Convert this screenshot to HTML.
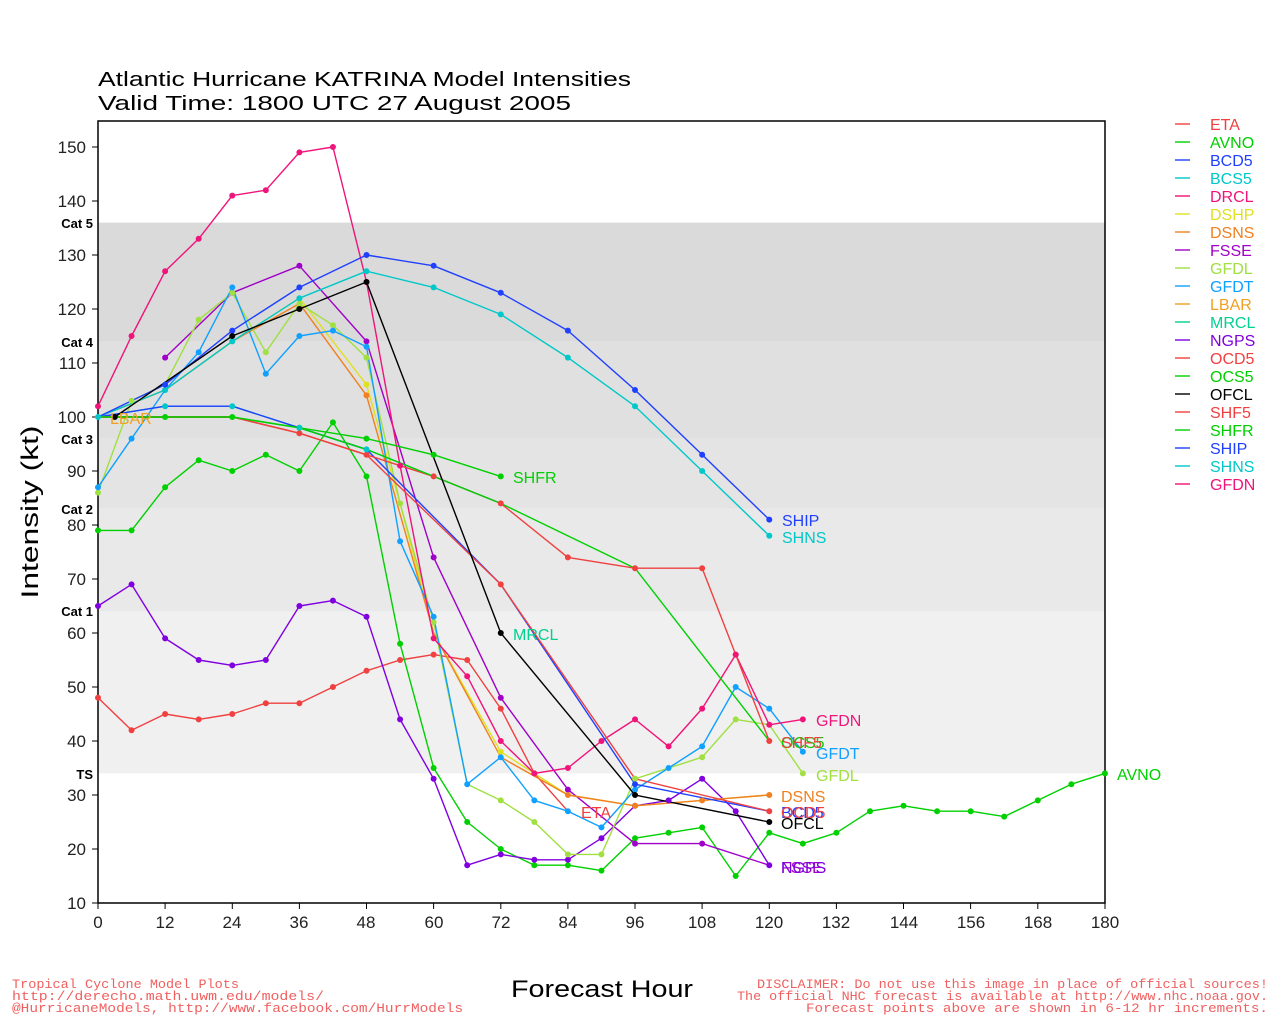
<!DOCTYPE html>
<html><head><meta charset="utf-8"><style>
body{margin:0;background:#fff}
svg{display:block;font-family:"Liberation Sans",sans-serif}
</style></head><body>
<svg width="1280" height="1024" viewBox="0 0 1280 1024" xmlns="http://www.w3.org/2000/svg">
<rect x="98" y="222.6" width="1007" height="118.8" fill="#dadada"/>
<rect x="98" y="341.4" width="1007" height="97.2" fill="#e0e0e0"/>
<rect x="98" y="438.6" width="1007" height="70.2" fill="#e4e4e4"/>
<rect x="98" y="508.8" width="1007" height="102.6" fill="#e9e9e9"/>
<rect x="98" y="611.4" width="1007" height="162" fill="#f0f0f0"/>
<rect x="98" y="121" width="1007" height="782" fill="none" stroke="#000" stroke-width="1.5"/>
<g font-size="20" fill="#000">
<text x="98" y="86" textLength="533" lengthAdjust="spacingAndGlyphs">Atlantic Hurricane KATRINA Model Intensities</text>
<text x="98" y="110" textLength="473" lengthAdjust="spacingAndGlyphs">Valid Time: 1800 UTC 27 August 2005</text>
</g>
<g font-size="17" fill="#222" text-anchor="end">
<text x="86" y="153">150</text><text x="86" y="207">140</text><text x="86" y="261">130</text>
<text x="86" y="315">120</text><text x="86" y="369">110</text><text x="86" y="423">100</text>
<text x="86" y="477">90</text><text x="86" y="531">80</text><text x="86" y="585">70</text>
<text x="86" y="639">60</text><text x="86" y="693">50</text><text x="86" y="747">40</text>
<text x="86" y="801">30</text><text x="86" y="855">20</text><text x="86" y="909">10</text>
</g>
<g stroke="#000" stroke-width="1">
<path d="M92 147H98M92 201H98M92 255H98M92 309H98M92 363H98M92 417H98M92 471H98M92 525H98M92 579H98M92 633H98M92 687H98M92 741H98M92 795H98M92 849H98M92 903H98"/>
<path d="M98 903V909M165.1 903V909M232.3 903V909M299.4 903V909M366.5 903V909M433.6 903V909M500.8 903V909M567.9 903V909M635 903V909M702.1 903V909M769.3 903V909M836.4 903V909M903.5 903V909M970.6 903V909M1037.8 903V909M1105 903V909"/>
</g>
<g font-size="17" fill="#222" text-anchor="middle">
<text x="98" y="928">0</text><text x="165" y="928">12</text><text x="232" y="928">24</text><text x="299" y="928">36</text><text x="366" y="928">48</text><text x="434" y="928">60</text><text x="501" y="928">72</text><text x="568" y="928">84</text><text x="635" y="928">96</text><text x="702" y="928">108</text><text x="769" y="928">120</text><text x="836" y="928">132</text><text x="904" y="928">144</text><text x="971" y="928">156</text><text x="1038" y="928">168</text><text x="1105" y="928">180</text>
</g>
<g font-size="13" font-weight="bold" fill="#000" text-anchor="end">
<text x="93" y="228">Cat 5</text><text x="93" y="347">Cat 4</text><text x="93" y="444">Cat 3</text><text x="93" y="514">Cat 2</text><text x="93" y="616">Cat 1</text><text x="93" y="779">TS</text>
</g>
<text x="38" y="512" font-size="24" fill="#000" text-anchor="middle" transform="rotate(-90 38 512)" textLength="173" lengthAdjust="spacingAndGlyphs">Intensity (kt)</text>
<text x="511" y="997" font-size="24" fill="#000" textLength="182" lengthAdjust="spacingAndGlyphs">Forecast Hour</text>
<g font-size="13" fill="#f06060" font-family="Liberation Mono, monospace">
<text x="12" y="988" textLength="227" lengthAdjust="spacingAndGlyphs">Tropical Cyclone Model Plots</text>
<text x="12" y="1000" textLength="312" lengthAdjust="spacingAndGlyphs">http://derecho.math.uwm.edu/models/</text>
<text x="12" y="1012" textLength="451" lengthAdjust="spacingAndGlyphs">@HurricaneModels, http://www.facebook.com/HurrModels</text>
<text x="757" y="988" textLength="511" lengthAdjust="spacingAndGlyphs">DISCLAIMER: Do not use this image in place of official sources!</text>
<text x="737" y="1000" textLength="531" lengthAdjust="spacingAndGlyphs">The official NHC forecast is available at http://www.nhc.noaa.gov.</text>
<text x="806" y="1012" textLength="462" lengthAdjust="spacingAndGlyphs">Forecast points above are shown in 6-12 hr increments.</text>
</g>
<g transform="matrix(5.594 0 0 -5.4 98 957)" fill="none" stroke-linejoin="round">
<g stroke-width="1.4">
<polyline vector-effect="non-scaling-stroke" stroke="#f04040" points="0,48 6,42 12,45 18,44 24,45 30,47 36,47 42,50 48,53 54,55 60,56 66,55 72,46 78,34 84,27"/>
<polyline vector-effect="non-scaling-stroke" stroke="#00d000" points="0,79 6,79 12,87 18,92 24,90 30,93 36,90 42,99 48,89 54,58 60,35 66,25 72,20 78,17 84,17 90,16 96,22 102,23 108,24 114,15 120,23 126,21 132,23 138,27 144,28 150,27 156,27 162,26 168,29 174,32 180,34"/>
<polyline vector-effect="non-scaling-stroke" stroke="#8000e0" points="0,65 6,69 12,59 18,55 24,54 30,55 36,65 42,66 48,63 54,44 60,33 66,17 72,19 78,18 84,18 90,22 96,28 102,29 108,33 114,27 120,17"/>
<polyline vector-effect="non-scaling-stroke" stroke="#a000c8" points="12,111 24,123 36,128 48,114 60,74 72,48 84,31 96,21 108,21 120,17"/>
<polyline vector-effect="non-scaling-stroke" stroke="#e0e020" points="0,100 12,105 24,114 36,122 48,106 54,84 60,60 72,38 84,30 96,28 108,29 120,30"/>
<polyline vector-effect="non-scaling-stroke" stroke="#f08020" points="0,100 12,105 24,114 36,121 48,104 60,60 72,37 84,30 96,28 108,29 120,30"/>
<polyline vector-effect="non-scaling-stroke" stroke="#a0e040" points="0,86 6,103 12,106 18,118 24,123 30,112 36,121 42,117 48,111 54,84 60,62 66,32 72,29 78,25 84,19 90,19 96,33 108,37 114,44 120,43 126,34"/>
<polyline vector-effect="non-scaling-stroke" stroke="#10a0ff" points="0,87 6,96 12,105 18,112 24,124 30,108 36,115 42,116 48,113 54,77 60,63 66,32 72,37 78,29 84,27 90,24 96,31 102,35 108,39 114,50 120,46 126,38"/>
<polyline vector-effect="non-scaling-stroke" stroke="#f0147a" points="0,102 6,115 12,127 18,133 24,141 30,142 36,149 42,150 48,125 54,91 60,59 66,52 72,40 78,34 84,35 90,40 96,44 102,39 108,46 114,56 120,43 126,44"/>
<polyline vector-effect="non-scaling-stroke" stroke="#00c8c8" points="0,100 12,102 24,102 36,98 48,94 60,89 72,84"/>
<polyline vector-effect="non-scaling-stroke" stroke="#2040ff" points="0,100 12,102 24,102 36,98 48,94 72,69 96,32 120,27"/>
<polyline vector-effect="non-scaling-stroke" stroke="#f04040" points="0,100 12,100 24,100 36,97 48,93 60,89 72,84 84,74 96,72 108,72 114,56 120,40"/>
<polyline vector-effect="non-scaling-stroke" stroke="#00d000" points="0,100 12,100 24,100 36,98 48,94 60,89 72,84 96,72 120,40"/>
<polyline vector-effect="non-scaling-stroke" stroke="#f04040" points="0,100 12,100 24,100 36,97 48,93 72,69 96,33 120,27"/>
<polyline vector-effect="non-scaling-stroke" stroke="#00d000" points="0,100 12,100 24,100 36,98 48,96 60,93 72,89"/>
<polyline vector-effect="non-scaling-stroke" stroke="#00c8c8" points="0,100 12,105 24,114 36,122 48,127 60,124 72,119 84,111 96,102 108,90 120,78"/>
<polyline vector-effect="non-scaling-stroke" stroke="#2040ff" points="0,100 12,106 24,116 36,124 48,130 60,128 72,123 84,116 96,105 108,93 120,81"/>
<polyline vector-effect="non-scaling-stroke" stroke="#000" points="3,100 24,115 36,120 48,125 72,60 96,30 120,25"/>
</g>
<g stroke-width="6" stroke-linecap="round">
<path vector-effect="non-scaling-stroke" stroke="#f04040" d="M0 48h0M6 42h0M12 45h0M18 44h0M24 45h0M30 47h0M36 47h0M42 50h0M48 53h0M54 55h0M60 56h0M66 55h0M72 46h0M78 34h0M60 89h0M72 84h0M84 74h0M96 72h0M108 72h0M114 56h0M120 40h0M120 27h0M96 33h0M48 93h0M36 97h0M72 69h0"/>
<path vector-effect="non-scaling-stroke" stroke="#00d000" d="M0 79h0M6 79h0M12 87h0M18 92h0M24 90h0M30 93h0M36 90h0M42 99h0M48 89h0M54 58h0M60 35h0M66 25h0M72 20h0M78 17h0M84 17h0M90 16h0M96 22h0M102 23h0M108 24h0M114 15h0M120 23h0M126 21h0M132 23h0M138 27h0M144 28h0M150 27h0M156 27h0M162 26h0M168 29h0M174 32h0M180 34h0M12 100h0M24 100h0M36 98h0M48 96h0M60 93h0M72 89h0"/>
<path vector-effect="non-scaling-stroke" stroke="#8000e0" d="M0 65h0M6 69h0M12 59h0M18 55h0M24 54h0M30 55h0M36 65h0M42 66h0M48 63h0M54 44h0M60 33h0M66 17h0M72 19h0M78 18h0M84 18h0M90 22h0M96 28h0M102 29h0M108 33h0M114 27h0M120 17h0"/>
<path vector-effect="non-scaling-stroke" stroke="#a000c8" d="M12 111h0M24 123h0M36 128h0M48 114h0M60 74h0M72 48h0M84 31h0M96 21h0M108 21h0"/>
<path vector-effect="non-scaling-stroke" stroke="#e0e020" d="M48 106h0M54 84h0M72 38h0"/>
<path vector-effect="non-scaling-stroke" stroke="#f08020" d="M48 104h0M84 30h0M96 28h0M108 29h0M120 30h0"/>
<path vector-effect="non-scaling-stroke" stroke="#a0e040" d="M0 86h0M6 103h0M18 118h0M24 123h0M30 112h0M36 121h0M42 117h0M48 111h0M54 84h0M60 62h0M72 29h0M78 25h0M84 19h0M90 19h0M96 33h0M108 37h0M114 44h0M126 34h0"/>
<path vector-effect="non-scaling-stroke" stroke="#10a0ff" d="M0 87h0M6 96h0M12 105h0M18 112h0M24 124h0M30 108h0M36 115h0M42 116h0M48 113h0M54 77h0M60 63h0M66 32h0M72 37h0M78 29h0M84 27h0M90 24h0M96 31h0M102 35h0M108 39h0M114 50h0M120 46h0M126 38h0"/>
<path vector-effect="non-scaling-stroke" stroke="#f0147a" d="M0 102h0M6 115h0M12 127h0M18 133h0M24 141h0M30 142h0M36 149h0M42 150h0M48 125h0M54 91h0M60 59h0M66 52h0M72 40h0M78 34h0M84 35h0M90 40h0M96 44h0M102 39h0M108 46h0M114 56h0M120 43h0M126 44h0"/>
<path vector-effect="non-scaling-stroke" stroke="#00c8c8" d="M0 100h0M12 102h0M24 102h0M36 98h0M48 94h0M12 105h0M24 114h0M36 122h0M48 127h0M60 124h0M72 119h0M84 111h0M96 102h0M108 90h0M120 78h0"/>
<path vector-effect="non-scaling-stroke" stroke="#2040ff" d="M12 106h0M24 116h0M36 124h0M48 130h0M60 128h0M72 123h0M84 116h0M96 105h0M108 93h0M120 81h0M96 32h0"/>
<path vector-effect="non-scaling-stroke" stroke="#000" d="M3 100h0M24 115h0M36 120h0M48 125h0M72 60h0M96 30h0M120 25h0"/>
</g>
</g>
<g font-size="16">
<text x="110" y="424" fill="#f0a020">LBAR</text>
<text x="513" y="483" fill="#00d000">SHFR</text>
<text x="513" y="640" fill="#00d090">MRCL</text>
<text x="581" y="818" fill="#f04040">ETA</text>
<text x="782" y="526" fill="#2040ff">SHIP</text>
<text x="782" y="543" fill="#00c8c8">SHNS</text>
<text x="816" y="726" fill="#f0147a">GFDN</text>
<text x="781" y="748" fill="#00d000">OCS5</text>
<text x="781" y="748" fill="#f04040">SHF5</text>
<text x="816" y="759" fill="#10a0ff">GFDT</text>
<text x="816" y="781" fill="#a0e040">GFDL</text>
<text x="781" y="802" fill="#f08020">DSNS</text>
<text x="781" y="818" fill="#2040ff">BCD5</text>
<text x="781" y="818" fill="#f04040">OCD5</text>
<text x="781" y="829" fill="#000">OFCL</text>
<text x="781" y="873" fill="#a000c8">FSSE</text>
<text x="781" y="873" fill="#8000e0">NGPS</text>
<text x="1117" y="780" fill="#00d000">AVNO</text>
</g>
<g font-size="16" stroke-width="1.4">
<line x1="1175" y1="124" x2="1190" y2="124" stroke="#f04040"/><text x="1210" y="130" fill="#f04040">ETA</text>
<line x1="1175" y1="142" x2="1190" y2="142" stroke="#00d000"/><text x="1210" y="148" fill="#00d000">AVNO</text>
<line x1="1175" y1="160" x2="1190" y2="160" stroke="#2040ff"/><text x="1210" y="166" fill="#2040ff">BCD5</text>
<line x1="1175" y1="178" x2="1190" y2="178" stroke="#00c8c8"/><text x="1210" y="184" fill="#00c8c8">BCS5</text>
<line x1="1175" y1="196" x2="1190" y2="196" stroke="#f0147a"/><text x="1210" y="202" fill="#f0147a">DRCL</text>
<line x1="1175" y1="214" x2="1190" y2="214" stroke="#e0e020"/><text x="1210" y="220" fill="#e0e020">DSHP</text>
<line x1="1175" y1="232" x2="1190" y2="232" stroke="#f08020"/><text x="1210" y="238" fill="#f08020">DSNS</text>
<line x1="1175" y1="250" x2="1190" y2="250" stroke="#a000c8"/><text x="1210" y="256" fill="#a000c8">FSSE</text>
<line x1="1175" y1="268" x2="1190" y2="268" stroke="#a0e040"/><text x="1210" y="274" fill="#a0e040">GFDL</text>
<line x1="1175" y1="286" x2="1190" y2="286" stroke="#10a0ff"/><text x="1210" y="292" fill="#10a0ff">GFDT</text>
<line x1="1175" y1="304" x2="1190" y2="304" stroke="#f0a020"/><text x="1210" y="310" fill="#f0a020">LBAR</text>
<line x1="1175" y1="322" x2="1190" y2="322" stroke="#00d090"/><text x="1210" y="328" fill="#00d090">MRCL</text>
<line x1="1175" y1="340" x2="1190" y2="340" stroke="#8000e0"/><text x="1210" y="346" fill="#8000e0">NGPS</text>
<line x1="1175" y1="358" x2="1190" y2="358" stroke="#f04040"/><text x="1210" y="364" fill="#f04040">OCD5</text>
<line x1="1175" y1="376" x2="1190" y2="376" stroke="#00d000"/><text x="1210" y="382" fill="#00d000">OCS5</text>
<line x1="1175" y1="394" x2="1190" y2="394" stroke="#000"/><text x="1210" y="400" fill="#000">OFCL</text>
<line x1="1175" y1="412" x2="1190" y2="412" stroke="#f04040"/><text x="1210" y="418" fill="#f04040">SHF5</text>
<line x1="1175" y1="430" x2="1190" y2="430" stroke="#00d000"/><text x="1210" y="436" fill="#00d000">SHFR</text>
<line x1="1175" y1="448" x2="1190" y2="448" stroke="#2040ff"/><text x="1210" y="454" fill="#2040ff">SHIP</text>
<line x1="1175" y1="466" x2="1190" y2="466" stroke="#00c8c8"/><text x="1210" y="472" fill="#00c8c8">SHNS</text>
<line x1="1175" y1="484" x2="1190" y2="484" stroke="#f0147a"/><text x="1210" y="490" fill="#f0147a">GFDN</text>
</g>
</svg>
</body></html>
